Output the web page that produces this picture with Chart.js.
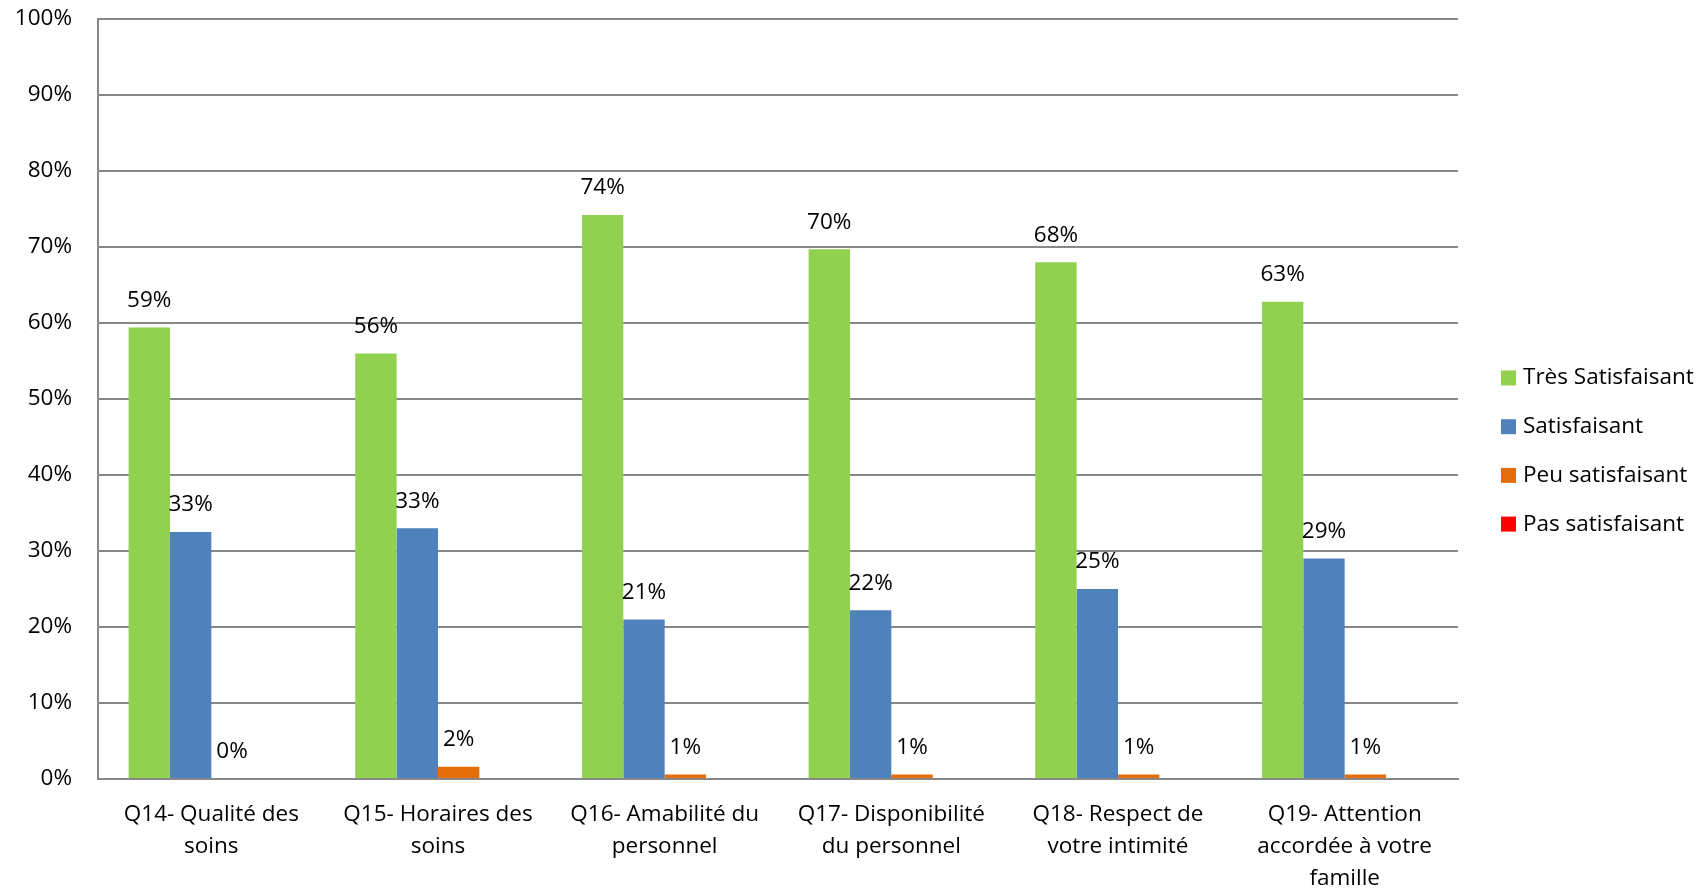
<!DOCTYPE html>
<html>
<head>
<meta charset="utf-8">
<script src="https://cdn.jsdelivr.net/npm/chart.js@4.4.1/dist/chart.umd.min.js"></script>
<style>
  html, body { margin: 0; padding: 0; background: #fff; }
  #wrap { width: 1708px; height: 892px; }
</style>
</head>
<body>
<div id="wrap"><canvas id="satisfaction"></canvas></div>
<script>
const categories = [
  ["Q14- Qualité des", "soins"],
  ["Q15- Horaires des", "soins"],
  ["Q16- Amabilité du", "personnel"],
  ["Q17- Disponibilité", "du personnel"],
  ["Q18- Respect de", "votre intimité"],
  ["Q19- Attention", "accordée à votre", "famille"],
];
const tresSatisfaisant = [59.4, 56.0, 74.2, 69.7, 68.0, 62.8];
const satisfaisant = [32.5, 33.0, 21.0, 22.2, 25.0, 29.0];
const peuSatisfaisant = [0, 1.6, 0.6, 0.6, 0.6, 0.6];
const pasSatisfaisant = [0, 0, 0, 0, 0, 0];
const yTicks = [0, 10, 20, 30, 40, 50, 60, 70, 80, 90, 100];

const FONT = "'Open Sans', Lato, sans-serif";
const FSIZE = 22.5;
const GRID = "#888888";

// value labels above the bars
const valueLabels = {
  id: "valueLabels",
  afterDatasetsDraw(chart) {
    const ctx = chart.ctx;
    ctx.save();
    ctx.font = FSIZE + "px " + FONT;
    ctx.fillStyle = "#000";
    ctx.textAlign = "center";
    ctx.textBaseline = "middle";
    chart.data.datasets.forEach((ds, i) => {
      if (ds.showValues === false) return;
      chart.getDatasetMeta(i).data.forEach((bar, j) => {
        ctx.fillText(Math.round(ds.data[j]) + "%", bar.x, bar.y - 27);
      });
    });
    ctx.restore();
  },
};

// legend at the right, like the Excel one
const sideLegend = {
  id: "sideLegend",
  afterDraw(chart) {
    const ctx = chart.ctx;
    ctx.save();
    ctx.font = FSIZE + "px " + FONT;
    ctx.textBaseline = "middle";
    ctx.textAlign = "left";
    chart.data.datasets.forEach((ds, i) => {
      const y = 378 + i * 48.7;
      ctx.fillStyle = ds.backgroundColor;
      ctx.fillRect(1501, y - 7.5, 15, 15);
      ctx.fillStyle = "#000";
      ctx.fillText(ds.label, 1523, y);
    });
    ctx.restore();
  },
};

new Chart(document.getElementById("satisfaction"), {
  type: "bar",
  data: {
    labels: categories,
    datasets: [
      { label: "Très Satisfaisant", backgroundColor: "#92D050", data: tresSatisfaisant },
      { label: "Satisfaisant", backgroundColor: "#4F81BD", data: satisfaisant },
      { label: "Peu satisfaisant", backgroundColor: "#E46C0A", data: peuSatisfaisant },
      { label: "Pas satisfaisant", backgroundColor: "#FF0000", data: pasSatisfaisant, showValues: false },
    ],
  },
  options: {
    responsive: true,
    maintainAspectRatio: false,
    devicePixelRatio: 1,
    animation: false,
    datasets: {
      bar: { barPercentage: 1, categoryPercentage: 0.73 },
    },
    layout: { padding: { top: 19, right: 250, left: 0, bottom: 0 } },
    plugins: {
      legend: { display: false },
      tooltip: { enabled: false },
    },
    scales: {
      x: {
        grid: { display: false, drawTicks: false },
        border: { color: GRID, width: 2 },
        ticks: {
          color: "#000",
          padding: 20,
          maxRotation: 0,
          autoSkip: false,
          font: { family: FONT, size: FSIZE, lineHeight: 1.42 },
        },
        afterFit(scale) {
          scale.height = 113;
          scale.paddingLeft = 0;
          scale.paddingRight = 0;
        },
      },
      y: {
        min: 0,
        max: 100,
        afterBuildTicks(scale) { scale.ticks = yTicks.map((v) => ({ value: v })); },
        grid: { color: GRID, lineWidth: 2, drawTicks: false },
        border: { color: GRID, width: 2 },
        ticks: {
          color: "#000",
          padding: 26,
          font: { family: FONT, size: FSIZE },
          callback: (v) => v + "%",
        },
        afterFit(scale) {
          scale.width = 98;
          scale.paddingTop = 0;
          scale.paddingBottom = 0;
        },
      },
    },
  },
  plugins: [valueLabels, sideLegend],
});
</script>
</body>
</html>
